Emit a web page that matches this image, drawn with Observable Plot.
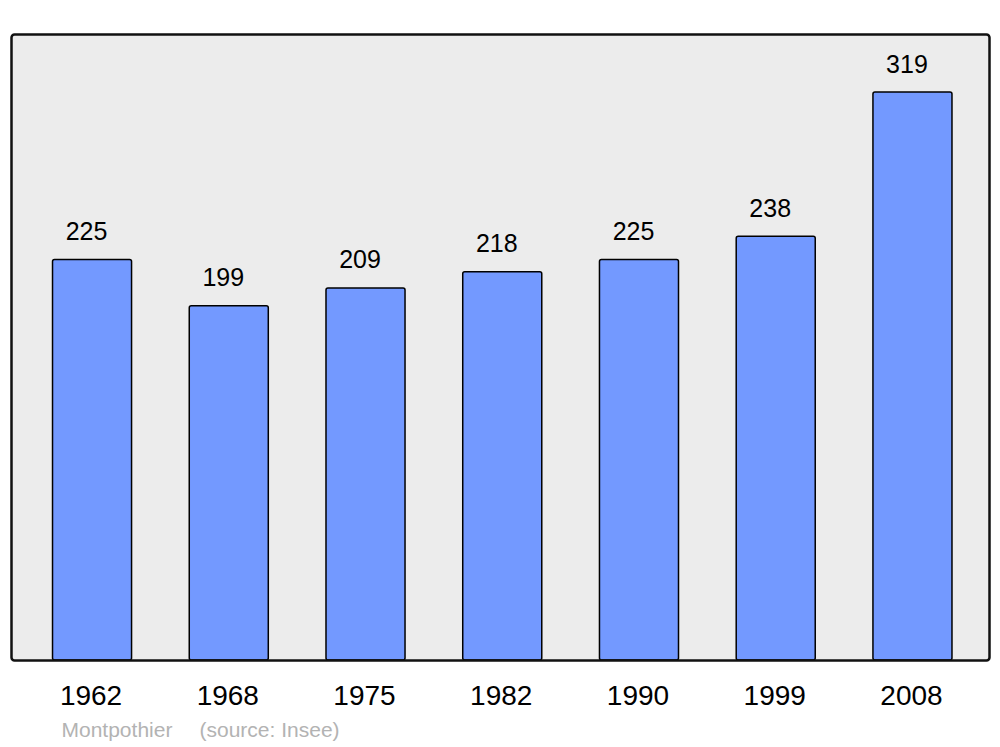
<!DOCTYPE html>
<html>
<head>
<meta charset="utf-8">
<script src="https://cdn.jsdelivr.net/npm/d3@7"></script>
<script src="https://cdn.jsdelivr.net/npm/@observablehq/plot@0.6"></script>
<style>
  html, body { margin: 0; padding: 0; background: #ffffff; }
  svg { display: block; }
</style>
</head>
<body>
<div id="chart"></div>
<script>
const years = ["1962", "1968", "1975", "1982", "1990", "1999", "2008"];
const population = [225, 199, 209, 218, 225, 238, 319];
const place = "Montpothier";
const source = "(source: Insee)";

const data = years.map((year, i) => ({year, value: population[i]}));

const chart = Plot.plot({
  width: 1000,
  height: 747,
  marginLeft: 11,
  marginRight: 11,
  marginTop: 34,
  marginBottom: 87,
  style: {fontFamily: "'Liberation Sans', Arial, sans-serif", background: "#ffffff"},
  x: {domain: years, range: [11.5, 993], paddingInner: 0.422, paddingOuter: 0.3, round: false, label: null},
  y: {domain: [0, 351.6], axis: null},
  marks: [
    Plot.frame({fill: "#ececec", stroke: "none", rx: 3}),
    Plot.barY(data, {x: "year", y: "value", fill: "#7399ff", stroke: "#000000", strokeWidth: 1.5, rx: 2}),
    Plot.text(data, {x: "year", y: "value", text: d => String(d.value), dx: -6, dy: -28, fontSize: 25, fill: "#000000"}),
    Plot.frame({stroke: "#111111", strokeWidth: 2.5, rx: 3}),
    Plot.axisX({tickSize: 0, tickPadding: 25, fontSize: 28, dx: -1.5, label: null, color: "#000000"}),
    Plot.text([place], {frameAnchor: "bottom-left", dx: 50, dy: 76, textAnchor: "start", fontSize: 21, fill: "#b3b3b3"}),
    Plot.text([source], {frameAnchor: "bottom-left", dx: 188, dy: 76, textAnchor: "start", fontSize: 21, fill: "#b3b3b3"})
  ]
});
document.getElementById("chart").appendChild(chart);
</script>
</body>
</html>
